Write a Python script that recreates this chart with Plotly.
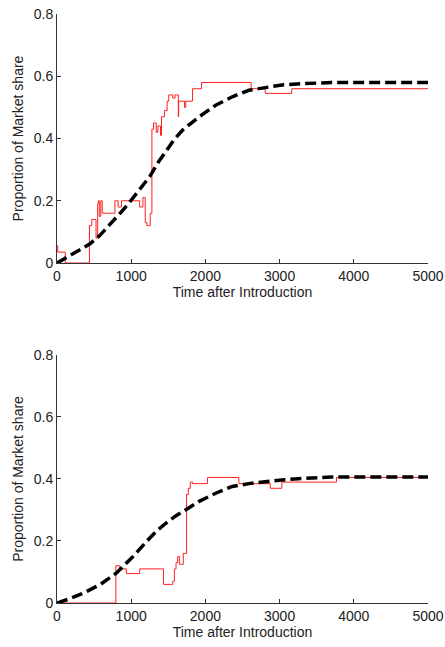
import plotly.graph_objects as go

# ---- data ----
top_sim_t = [0, 10, 111, 437, 468, 526, 548, 557, 570, 590, 610, 780, 824, 869, 1114, 1158, 1189, 1212,
             1256, 1279, 1301, 1337, 1359, 1395, 1408, 1448, 1484, 1506, 1560, 1590, 1635, 1640, 1720,
             1735, 1827, 1947, 2616, 2807, 3164, 5000]
top_sim_v = [0.055, 0.035, 0.0, 0.12, 0.14, 0.08, 0.19, 0.20, 0.15, 0.20, 0.16, 0.20, 0.18, 0.20, 0.18,
             0.21, 0.13, 0.12, 0.16, 0.43, 0.45, 0.42, 0.44, 0.41, 0.47, 0.49, 0.52, 0.54, 0.53, 0.54,
             0.47, 0.52, 0.50, 0.52, 0.56, 0.58, 0.56, 0.545, 0.56, 0.56]
top_mod_t = [0, 134, 300, 446, 579, 710, 847, 960, 1070, 1160, 1248, 1360, 1471, 1580, 1693, 1805, 1916,
             2139, 2362, 2585, 2807, 3030, 3300, 3699, 5000]
top_mod_v = [0.0, 0.019, 0.040, 0.062, 0.089, 0.122, 0.159, 0.190, 0.223, 0.250, 0.277, 0.322, 0.362,
             0.397, 0.427, 0.450, 0.470, 0.507, 0.534, 0.555, 0.564, 0.572, 0.576, 0.580, 0.580]

bot_sim_t = [0, 793, 846, 935, 1114, 1435, 1560, 1582, 1604, 1626, 1649, 1702, 1746, 1770, 1796, 1827,
             2028, 2451, 2874, 3030, 3766, 5000]
bot_sim_v = [0.0, 0.12, 0.11, 0.095, 0.11, 0.06, 0.07, 0.11, 0.13, 0.15, 0.125, 0.16, 0.35, 0.37, 0.39,
             0.385, 0.405, 0.385, 0.37, 0.39, 0.405, 0.405]
bot_mod_t = [0, 150, 356, 579, 802, 1025, 1248, 1360, 1471, 1600, 1738, 1916, 2139, 2362, 2585, 2807,
             3030, 3253, 3699, 5000]
bot_mod_v = [0.0, 0.012, 0.032, 0.059, 0.097, 0.150, 0.209, 0.236, 0.258, 0.281, 0.301, 0.328, 0.354,
             0.376, 0.385, 0.392, 0.397, 0.401, 0.406, 0.406]

x_ticks = [0, 1000, 2000, 3000, 4000, 5000]
y_ticks = [0, 0.2, 0.4, 0.6, 0.8]
y_ticktext = ["0", "0.2", "0.4", "0.6", "0.8"]
x_title = "Time after Introduction"
y_title = "Proportion of Market share"

fig = go.Figure()
for sim_t, sim_v, mod_t, mod_v, ax in [(top_sim_t, top_sim_v, top_mod_t, top_mod_v, ""),
                                       (bot_sim_t, bot_sim_v, bot_mod_t, bot_mod_v, "2")]:
    fig.add_trace(go.Scatter(x=sim_t, y=sim_v, mode="lines", line=dict(color="#ff2020", width=1, shape="hv"),
                             xaxis="x" + ax, yaxis="y" + ax, showlegend=False))
    fig.add_trace(go.Scatter(x=mod_t, y=mod_v, mode="lines",
                             line=dict(color="black", width=3.5, dash="11px,5px"),
                             xaxis="x" + ax, yaxis="y" + ax, showlegend=False))

font = dict(family="Liberation Sans, Arial", size=14, color="#222222")
axis_common = dict(showline=True, linecolor="#333333", linewidth=1, ticks="inside", ticklen=4,
                   tickcolor="#333333", showgrid=False, zeroline=False, tickfont=font, mirror=False,
                   ticklabeloverflow="allow", automargin=False)

H_top = 0.5772
H_bot = 0.4211
fig.update_layout(
    width=445, height=647,
    margin=dict(l=57, r=17, t=14, b=44),
    plot_bgcolor="white", paper_bgcolor="white",
    font=font,
    xaxis=dict(domain=[0, 1], range=[0, 5000], tickvals=x_ticks, anchor="y",
               title=dict(text=x_title, font=font, standoff=2), **axis_common),
    yaxis=dict(domain=[H_top, 1], range=[0, 0.8], tickvals=y_ticks, ticktext=y_ticktext, anchor="x",
               title=dict(text=y_title, font=font, standoff=6), **axis_common),
    xaxis2=dict(domain=[0, 1], range=[0, 5000], tickvals=x_ticks, anchor="y2",
                title=dict(text=x_title, font=font, standoff=2), **axis_common),
    yaxis2=dict(domain=[0, H_bot], range=[0, 0.8], tickvals=y_ticks, ticktext=y_ticktext, anchor="x2",
                title=dict(text=y_title, font=font, standoff=6), **axis_common),
)

fig.write_html("out.html")
